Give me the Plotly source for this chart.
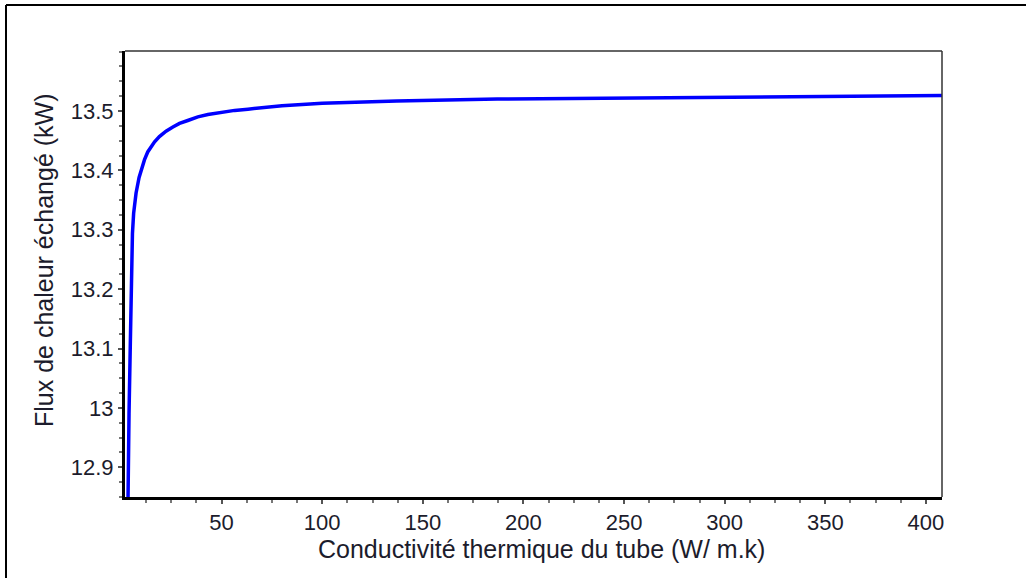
import plotly.graph_objects as go

# Heat flux exchanged as a function of the tube's thermal conductivity
conductivite = [3.0, 3.5, 4.0, 4.6, 5.0, 5.3, 5.7, 6.3, 7.5, 9.0, 10.3, 11.7, 13.3,
                15.0, 16.7, 19.1, 22.4, 25.8, 29.1, 33.2, 38.2, 43.2, 48.1, 56.5,
                63.1, 70, 80, 100, 137, 187, 250, 330, 408]
flux_kw = [12.70, 12.90, 12.99, 13.10, 13.17, 13.25, 13.294, 13.328, 13.362, 13.388,
           13.404, 13.418, 13.431, 13.440, 13.448, 13.457, 13.466, 13.473, 13.479,
           13.484, 13.490, 13.494, 13.497, 13.501, 13.503, 13.506, 13.509, 13.513,
           13.517, 13.520, 13.522, 13.524, 13.526]

x_ticks = [50, 100, 150, 200, 250, 300, 350, 400]
y_ticks = [12.9, 13.0, 13.1, 13.2, 13.3, 13.4, 13.5]
y_tick_text = ["12.9", "13", "13.1", "13.2", "13.3", "13.4", "13.5"]

x_range = [2, 408]
y_range = [12.85, 13.601]

W, H = 1026, 578
ML, MR, MT, MB = 125, 84, 51, 81
PW, PH = W - ML - MR, H - MT - MB

FONT = "Liberation Sans, Arial, sans-serif"
TXT = "#1c1c2c"


def px_to_paper_x(px):
    return (px - ML) / PW


def px_to_paper_y(py):
    return (H - MB - py) / PH


fig = go.Figure()
fig.add_trace(go.Scatter(
    x=conductivite, y=flux_kw, mode="lines",
    line=dict(color="#0000ff", width=3.5),
    hoverinfo="x+y", showlegend=False,
))

axis_common = dict(
    showgrid=False, zeroline=False,
    showline=True, linecolor="black", linewidth=3,
    ticks="outside", ticklen=4, tickwidth=1.5, tickcolor="#555",
    tickfont=dict(family=FONT, size=22, color=TXT),
)

fig.update_xaxes(
    range=x_range, tickvals=x_ticks,
    minor=dict(dtick=12.5, tick0=0, ticks="outside", ticklen=3,
               tickcolor="#777", tickwidth=1.5),
    **axis_common,
)
fig.update_yaxes(
    range=y_range, tickvals=y_ticks, ticktext=y_tick_text,
    minor=dict(dtick=0.025, tick0=12.85, ticks="outside", ticklen=3,
               tickcolor="#777", tickwidth=1.5),
    **axis_common,
)

shapes = [
    # thin top and right edges of the plotting box
    dict(type="line", xref="paper", yref="paper", x0=0, x1=1, y0=1, y1=1,
         line=dict(color="#333", width=1.5)),
    dict(type="line", xref="paper", yref="paper", x0=1, x1=1, y0=0, y1=1,
         line=dict(color="#333", width=1.5)),
    # outer frame around the figure
    dict(type="line", xref="paper", yref="paper",
         x0=px_to_paper_x(6), x1=px_to_paper_x(1030),
         y0=px_to_paper_y(5), y1=px_to_paper_y(5),
         line=dict(color="black", width=2)),
    dict(type="line", xref="paper", yref="paper",
         x0=px_to_paper_x(6), x1=px_to_paper_x(6),
         y0=px_to_paper_y(5), y1=px_to_paper_y(600),
         line=dict(color="black", width=2)),
]

annotations = [
    dict(text="Conductivité thermique du tube (W/ m.k)", xref="paper", yref="paper",
         x=px_to_paper_x(541), y=px_to_paper_y(549), xanchor="center", yanchor="middle",
         showarrow=False, font=dict(family=FONT, size=25, color=TXT)),
    dict(text="Flux de chaleur échangé (kW)", xref="paper", yref="paper",
         x=px_to_paper_x(44), y=px_to_paper_y(261), xanchor="center", yanchor="middle",
         textangle=-90, showarrow=False, font=dict(family=FONT, size=25, color=TXT)),
]

fig.update_layout(
    width=W, height=H,
    margin=dict(l=ML, r=MR, t=MT, b=MB),
    paper_bgcolor="white", plot_bgcolor="white",
    shapes=shapes, annotations=annotations,
)

fig.write_html("out.html", config={"displayModeBar": False})
